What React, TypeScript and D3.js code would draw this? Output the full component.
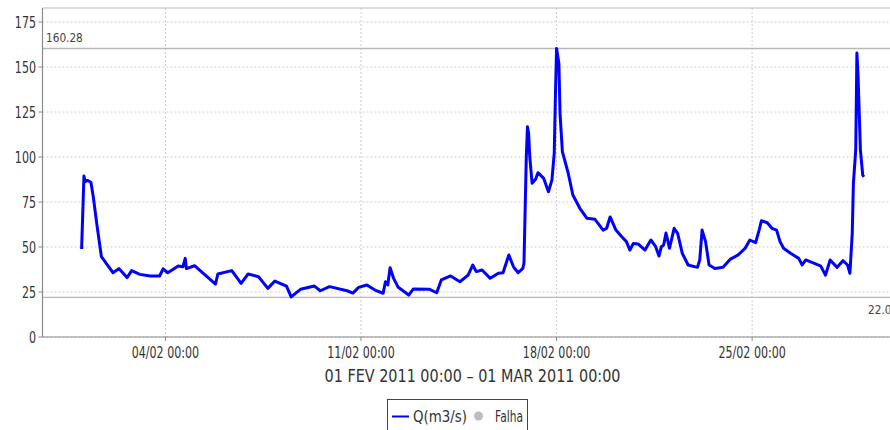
import React from "react";
import * as d3 from "d3";

// ---- data (hours after 01 FEV 2011 00:00, flow m3/s) ----
const startDate = new Date(2011, 1, 1, 0, 0);
const endDate = new Date(2011, 2, 1, 0, 0);
const hoursFromStart = [
  0, 2, 3, 5, 8, 10, 13, 17, 21, 27, 32, 39, 43, 50, 59, 67, 70, 74, 83, 87, 89, 90, 97, 107, 115, 117, 129,
  137, 143, 152, 160, 166, 176, 180, 188, 200, 205, 213, 228, 233, 238, 245, 252, 259, 261, 263, 265, 268,
  272, 281, 285, 299, 305, 309, 317, 325, 332, 336, 339, 344, 351, 358, 362, 367, 371, 375, 379, 380, 382,
  383, 384, 385, 387, 390, 392, 397, 401, 404, 406, 407, 408, 410, 411, 413, 418, 422, 428, 434, 441, 448,
  451, 454, 459, 464, 468, 471, 474, 478, 484, 489, 493, 496, 498, 500, 502, 505, 509, 512, 516, 521, 529,
  531, 533, 536, 539, 544, 551, 557, 564, 570, 574, 579, 582, 584, 589, 593, 597, 600, 603, 609, 616, 619,
  622, 629, 635, 639, 643, 649, 654, 658, 660, 662, 663, 665, 666, 667, 669, 671, 672,
];
const flow = [
  48.9, 89.4, 86.3, 87, 86, 78, 63, 44.6, 41, 35.7, 38, 33, 36.9, 34.8, 33.9, 33.9, 37.9, 35.7, 39.4, 39, 43.7,
  38, 39.6, 33.9, 29.4, 35, 36.9, 29.8, 35, 33.5, 27, 31.1, 28.3, 22.3, 26.5, 28.3, 25.7, 28, 25.7, 24.4, 27.6,
  28.9, 26.1, 24.3, 30.7, 28.9, 38.5, 32.6, 27.6, 23.3, 26.7, 26.5, 24.6, 31.7, 33.9, 30.7, 34.4, 40, 36.3,
  37.2, 32.6, 35.4, 35.7, 45.6, 39, 35.7, 38.1, 41, 100, 116.8, 113, 100, 85.4, 87.6, 91.3, 88.1, 80.7, 87.2,
  102, 133.5, 160.28, 152, 124, 103, 91, 78.9, 71.5, 66, 65.4, 59.4, 60.4, 66.7, 59.4, 55.7, 53, 48.3, 52,
  51.7, 48.3, 53.9, 50.4, 45, 50.2, 51.1, 57.8, 49.3, 60.4, 57.6, 46.5, 40, 38.7, 42.8, 59.4, 53, 40, 38.1,
  38.7, 43.1, 45.6, 49.3, 53.9, 52.4, 59.4, 64.6, 63.5, 60.4, 59.4, 53, 49.3, 46.5, 43.7, 40, 42.8, 41, 39.4,
  34.4, 42.8, 38.7, 42.4, 40, 35.4, 57.6, 85.5, 104, 157.8, 145, 104, 90, 89,
];
const yTicks = [0, 25, 50, 75, 100, 125, 150, 175];
const xTickDates = [new Date(2011, 1, 4), new Date(2011, 1, 11), new Date(2011, 1, 18), new Date(2011, 1, 25)];
const markerValues = [160.28, 22.0];
const markerLabels = ["160.28", "22.00"];
const axisTitle = "01 FEV 2011 00:00 \u2013 01 MAR 2011 00:00";
const seriesName = "Q(m3/s)";
const failName = "Falha";

const FONT = "'DejaVu Sans', Verdana, sans-serif";

export default function App() {
  const W = 890,
    H = 430;
  const left = 42.5,
    right = 903,
    top = 8,
    bottom = 337;
  const pad = 1.4 * 24 * 3600 * 1000;
  const x = d3
    .scaleTime()
    .domain([new Date(startDate.getTime() - pad), new Date(endDate.getTime() + pad)])
    .range([left, right]);
  const y = d3.scaleLinear().domain([0, 182.8]).range([bottom, top]);

  const pts: [Date, number][] = hoursFromStart.map((h, i) => [
    new Date(startDate.getTime() + h * 3600 * 1000),
    flow[i],
  ]);
  const line = d3
    .line<[Date, number]>()
    .x((d) => x(d[0]))
    .y((d) => y(d[1]));
  const fmt = d3.timeFormat("%d/%m %H:%M");

  return (
    <svg
      width={W}
      height={H}
      style={{ position: "absolute", left: 0, top: 0, background: "#fff", display: "block" }}
      fontFamily={FONT}
    >
      {/* grid */}
      {yTicks.map((t) => (
        <line key={"gy" + t} x1={left} x2={W} y1={y(t)} y2={y(t)} stroke="#cfcfcf" strokeDasharray="2,2" />
      ))}
      {xTickDates.map((d, i) => (
        <line key={"gx" + i} x1={x(d)} x2={x(d)} y1={top} y2={bottom} stroke="#cfcfcf" strokeDasharray="2,2" />
      ))}
      {/* top border */}
      <line x1={left} x2={W} y1={top} y2={top} stroke="#b8b8b8" strokeWidth={1.2} />
      {/* markers */}
      {markerValues.map((v, i) => (
        <line key={"m" + i} x1={left} x2={W} y1={y(v)} y2={y(v)} stroke="#b8b8b8" strokeWidth={1.4} />
      ))}
      <text transform={`translate(46,${y(markerValues[0]) - 7}) scale(0.81,1)`} fontSize={13} fill="#444">
        {markerLabels[0]}
      </text>
      <text transform={`translate(868,${y(markerValues[1]) + 17}) scale(0.81,1)`} fontSize={13} fill="#444">
        {markerLabels[1]}
      </text>
      {/* axes */}
      <line x1={left} x2={left} y1={top} y2={bottom} stroke="#8a8a8a" strokeWidth={1.2} />
      <line x1={left} x2={W} y1={bottom} y2={bottom} stroke="#8a8a8a" strokeWidth={1.2} />
      {yTicks.map((t) => (
        <g key={"yt" + t}>
          <line x1={left - 4} x2={left} y1={y(t)} y2={y(t)} stroke="#8a8a8a" />
          <text
            transform={`translate(36,${y(t) + 5.5}) scale(0.74,1)`}
            textAnchor="end"
            fontSize={15}
            fill="#333"
          >
            {t}
          </text>
        </g>
      ))}
      {xTickDates.map((d, i) => (
        <g key={"xt" + i}>
          <line x1={x(d)} x2={x(d)} y1={bottom} y2={bottom + 4} stroke="#8a8a8a" />
          <text
            transform={`translate(${x(d)},358) scale(0.74,1)`}
            textAnchor="middle"
            fontSize={15}
            fill="#333"
          >
            {fmt(d)}
          </text>
        </g>
      ))}
      <text transform={`translate(472.5,382) scale(0.8,1)`} textAnchor="middle" fontSize={18} fill="#333">
        {axisTitle}
      </text>
      {/* series */}
      <path d={line(pts) || ""} fill="none" stroke="#0000ff" strokeWidth={3} strokeLinejoin="round" />
      {/* legend */}
      <rect x={387.5} y={399.5} width={140} height={40} fill="#fff" stroke="#444" strokeWidth={1} />
      <line x1={392} x2={409} y1={416.5} y2={416.5} stroke="#0000ff" strokeWidth={2} />
      <text x={413} y={421.5} fontSize={15} fill="#333" textLength={54} lengthAdjust="spacingAndGlyphs">
        {seriesName}
      </text>
      <circle cx={478.5} cy={416} r={4.5} fill="#bdbdbd" />
      <text x={495} y={421.5} fontSize={15} fill="#333" textLength={28} lengthAdjust="spacingAndGlyphs">
        {failName}
      </text>
    </svg>
  );
}
